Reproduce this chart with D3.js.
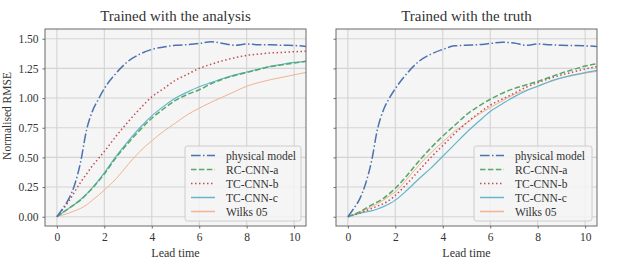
<!DOCTYPE html>
<html>
<head>
<meta charset="utf-8">
<script src="https://cdn.jsdelivr.net/npm/d3@7"></script>
<style>
  body { margin: 0; background: #fff; }
  text { font-family: "Liberation Serif", "DejaVu Serif", serif; fill: #333; }
</style>
</head>
<body>
<svg id="chart" width="642" height="261"></svg>
<script>
// lead times shared by every curve
const leadTime = [0,0.25,0.5,0.75,1,1.25,1.5,1.75,2,2.5,3,3.5,4,4.5,5,5.5,6,6.5,7,7.5,8,8.5,9,9.5,10,10.5]

const seriesNames = ["physical model", "RC-CNN-a", "TC-CNN-b", "TC-CNN-c", "Wilks 05"]
const panelTitles = ["Trained with the analysis", "Trained with the truth"]
const xTicks = [0, 2, 4, 6, 8, 10]
const yTicks = [0, 0.25, 0.5, 0.75, 1.0, 1.25, 1.5]

// panel 1 : trained with the analysis
const physAnalysis  = [0,0.07,0.15,0.27,0.46,0.73,0.89,0.99,1.08,1.21,1.31,1.37,1.41,1.43,1.445,1.45,1.46,1.475,1.46,1.445,1.455,1.45,1.45,1.445,1.443,1.435]
const rcaAnalysis   = [0,0.035,0.07,0.105,0.14,0.19,0.24,0.30,0.36,0.50,0.62,0.73,0.83,0.91,0.98,1.03,1.07,1.12,1.16,1.19,1.215,1.24,1.265,1.28,1.295,1.31]
const tcbAnalysis   = [0,0.06,0.13,0.21,0.29,0.36,0.43,0.49,0.55,0.68,0.80,0.91,1.01,1.08,1.15,1.20,1.25,1.285,1.315,1.34,1.36,1.37,1.38,1.385,1.39,1.395]
const tccAnalysis   = [0,0.035,0.07,0.105,0.145,0.19,0.245,0.305,0.37,0.51,0.635,0.75,0.85,0.93,1.0,1.05,1.095,1.13,1.165,1.195,1.22,1.245,1.268,1.285,1.30,1.31]
const wilksAnalysis = [0,0.015,0.03,0.05,0.07,0.10,0.14,0.18,0.225,0.32,0.44,0.55,0.64,0.72,0.79,0.86,0.915,0.965,1.01,1.055,1.10,1.13,1.155,1.175,1.196,1.216]

// panel 2 : trained with the truth
const physTruth  = [0,0.07,0.15,0.28,0.47,0.74,0.90,1.0,1.08,1.21,1.31,1.37,1.41,1.44,1.445,1.45,1.46,1.47,1.465,1.445,1.455,1.45,1.445,1.443,1.44,1.435]
const rcaTruth   = [0,0.02,0.04,0.07,0.10,0.125,0.155,0.195,0.24,0.35,0.47,0.58,0.68,0.77,0.86,0.93,0.99,1.04,1.08,1.11,1.14,1.175,1.21,1.24,1.27,1.29]
const tcbTruth   = [0,0.015,0.03,0.05,0.07,0.09,0.11,0.14,0.18,0.28,0.39,0.50,0.60,0.70,0.79,0.87,0.94,0.99,1.04,1.09,1.13,1.165,1.195,1.22,1.245,1.265]
const tccTruth   = [0,0.015,0.03,0.04,0.05,0.065,0.085,0.11,0.14,0.225,0.32,0.41,0.51,0.61,0.71,0.80,0.887,0.95,1.01,1.06,1.10,1.14,1.17,1.195,1.215,1.233]
const wilksTruth = [0,0.02,0.04,0.06,0.085,0.11,0.14,0.175,0.21,0.32,0.435,0.54,0.63,0.72,0.79,0.86,0.92,0.975,1.03,1.065,1.10,1.135,1.17,1.19,1.21,1.225]

const panels = [
    { title: panelTitles[0], left: 45,  series: [physAnalysis, rcaAnalysis, tcbAnalysis, tccAnalysis, wilksAnalysis], yLabels: true },
    { title: panelTitles[1], left: 336, series: [physTruth, rcaTruth, tcbTruth, tccTruth, wilksTruth], yLabels: false }
]

// line styles (seaborn deep colours)
const styles = [
    { color: "#4c72b0", width: 1.5, dash: "9.6,2.4,1.5,2.4" },
    { color: "#55a868", width: 1.5, dash: "5.5,2.4" },
    { color: "#c44e52", width: 1.5, dash: "1.5,2.5" },
    { color: "#64b5cd", width: 1.2, dash: "none" },
    { color: "#f0b393", width: 1.0, dash: "none" }
]

const panelWidth = 261
const plotTop = 29
const plotBottom = 226

const svg = d3.select("#chart")

panels.forEach((p, pi) => {
    const x = d3.scaleLinear().domain([-0.5, 10.5]).range([p.left, p.left + panelWidth])
    const y = d3.scaleLinear().domain([-0.078, 1.582]).range([plotBottom, plotTop])

    const g = svg.append("g")

    // background
    g.append("rect")
        .attr("x", p.left).attr("y", plotTop)
        .attr("width", panelWidth).attr("height", plotBottom - plotTop)
        .attr("fill", "#f5f5f5")

    // grid
    g.append("g").selectAll("line")
        .data(xTicks)
        .join("line")
        .attr("x1", d => x(d)).attr("x2", d => x(d))
        .attr("y1", plotTop).attr("y2", plotBottom)
        .attr("stroke", "#d4d4d4").attr("stroke-width", 1.1)
    g.append("g").selectAll("line")
        .data(yTicks)
        .join("line")
        .attr("x1", p.left).attr("x2", p.left + panelWidth)
        .attr("y1", d => y(d)).attr("y2", d => y(d))
        .attr("stroke", "#d4d4d4").attr("stroke-width", 1.1)

    // curves
    const clipId = "clip" + pi
    svg.append("clipPath").attr("id", clipId)
        .append("rect")
        .attr("x", p.left).attr("y", plotTop)
        .attr("width", panelWidth).attr("height", plotBottom - plotTop)

    const line = d3.line()
        .x((d, i) => x(leadTime[i]))
        .y(d => y(d))
        .curve(d3.curveMonotoneX)

    g.append("g").attr("clip-path", `url(#${clipId})`)
        .selectAll("path")
        .data(p.series.slice().reverse())
        .join("path")
        .attr("d", d => line(d))
        .attr("fill", "none")
        .each(function(d, i) {
            const s = styles[styles.length - 1 - i]
            d3.select(this)
                .attr("stroke", s.color)
                .attr("stroke-width", s.width)
                .attr("stroke-dasharray", s.dash)
        })

    // frame
    g.append("rect")
        .attr("x", p.left).attr("y", plotTop)
        .attr("width", panelWidth).attr("height", plotBottom - plotTop)
        .attr("fill", "none").attr("stroke", "#6a6a6a").attr("stroke-width", 1)

    // x axis
    const xAxis = d3.axisBottom(x).tickValues(xTicks).tickSize(2.5).tickPadding(4).tickFormat(d3.format("d"))
    g.append("g")
        .attr("transform", `translate(0, ${plotBottom})`)
        .call(xAxis)
        .call(a => a.select(".domain").remove())
        .call(a => a.selectAll("line").attr("stroke", "#6a6a6a"))
        .call(a => a.selectAll("text").attr("font-size", "11.5px").attr("font-family", "Liberation Serif").attr("fill", "#333"))

    // y axis
    const yAxis = d3.axisLeft(y).tickValues(yTicks).tickSize(2.5).tickPadding(4)
        .tickFormat(p.yLabels ? d3.format(".2f") : "")
    g.append("g")
        .attr("transform", `translate(${p.left}, 0)`)
        .call(yAxis)
        .call(a => a.select(".domain").remove())
        .call(a => a.selectAll("line").attr("stroke", "#6a6a6a"))
        .call(a => a.selectAll("text").attr("font-size", "11.5px").attr("font-family", "Liberation Serif").attr("fill", "#333"))

    // title and x label
    g.append("text")
        .attr("x", p.left + panelWidth / 2).attr("y", 21)
        .attr("text-anchor", "middle")
        .attr("font-size", "15px")
        .text(p.title)
    g.append("text")
        .attr("x", p.left + panelWidth / 2).attr("y", 257)
        .attr("text-anchor", "middle")
        .attr("font-size", "12px")
        .text("Lead time")

    // legend
    const legW = pi === 0 ? 116 : 118
    const legX = p.left + panelWidth - 5 - legW
    const legY = 146
    const leg = g.append("g")
    leg.append("rect")
        .attr("x", legX).attr("y", legY)
        .attr("width", legW).attr("height", 75)
        .attr("rx", 2.5)
        .attr("fill", "#f5f5f5").attr("fill-opacity", 0.85)
        .attr("stroke", "#cccccc").attr("stroke-width", 1)
    seriesNames.forEach((name, i) => {
        const s = styles[i]
        const ly = legY + 9.5 + i * 14
        leg.append("line")
            .attr("x1", legX + 6).attr("x2", legX + 30)
            .attr("y1", ly).attr("y2", ly)
            .style("stroke", s.color).style("stroke-width", 1.5)
            .style("stroke-dasharray", s.dash)
        leg.append("text")
            .attr("x", legX + 41).attr("y", ly + 4)
            .attr("font-size", "11.5px")
            .text(name)
    })
})

// shared y label
svg.append("text")
    .attr("transform", "translate(11, 116) rotate(-90)")
    .attr("text-anchor", "middle")
    .attr("font-size", "11.5px")
    .text("Normalised RMSE")
</script>
</body>
</html>
